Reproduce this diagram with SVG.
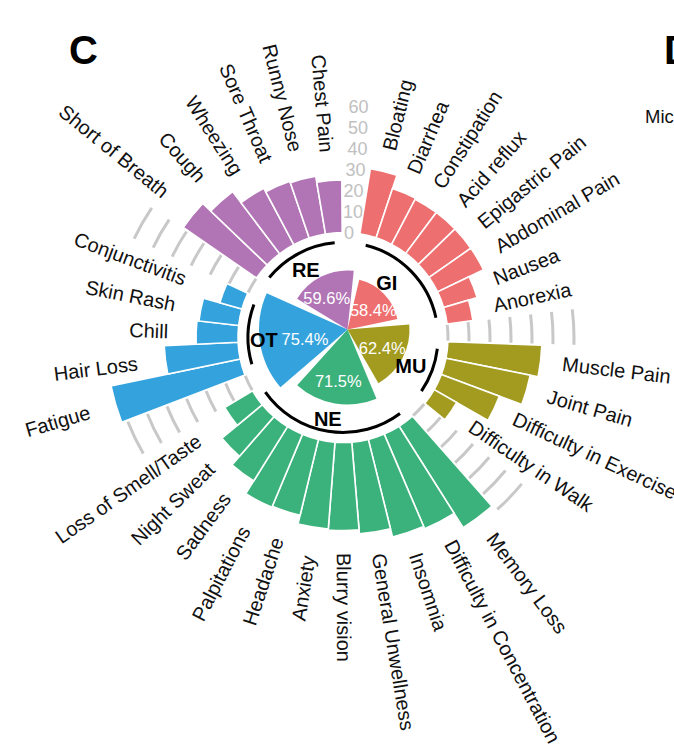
<svg xmlns="http://www.w3.org/2000/svg" xmlns:xlink="http://www.w3.org/1999/xlink" width="674" height="750" viewBox="0 0 674 750">
<style>
text{font-family:"Liberation Sans",Arial,sans-serif}
.lbl{font-size:20px;fill:#111;dominant-baseline:central}
.l{text-anchor:end}
.bar{stroke:#fff;stroke-width:1.6}
.gi{fill:#EE6F6F}
.mu{fill:#A39B1F}
.ne{fill:#3BB27B}
.ot{fill:#34A3DD}
.re{fill:#B174B5}
.tick{fill:none;stroke:#C8C8C8;stroke-width:3}
.garc{fill:none;stroke:#000;stroke-width:3}
.pct{font-size:16.5px;fill:#fff;text-anchor:middle;dominant-baseline:central}
.grp{font-size:20px;font-weight:bold;text-anchor:middle;fill:#000}
.ax{font-size:18px;fill:#C0C0C0;text-anchor:middle;dominant-baseline:central}
.panel{font-size:40px;font-weight:bold;fill:#000}
</style>
<defs>
<path id="tk" d="M104.69,-8.06A105,105 0 0 1 104.69,8.06M125.63,-9.67A126,126 0 0 1 125.63,9.67M146.57,-11.28A147,147 0 0 1 146.57,11.28M167.5,-12.89A168,168 0 0 1 167.5,12.89M188.44,-14.5A189,189 0 0 1 188.44,14.5M209.38,-16.11A210,210 0 0 1 209.38,16.11M230.32,-17.72A231,231 0 0 1 230.32,17.72"/>
</defs>
<rect width="674" height="750" fill="#fff"/>
<text class="panel" x="69" y="64">C</text>
<text class="panel" x="664" y="64">D</text>
<text x="645" y="123" style="font-size:18.5px;fill:#111">Mic</text>

<g id="grid" transform="translate(343,337.5)">
<use xlink:href="#tk" class="tick" transform="rotate(357.4)"/>
<use xlink:href="#tk" class="tick" transform="rotate(43.72)"/>
<use xlink:href="#tk" class="tick" transform="rotate(154.23)"/>
<use xlink:href="#tk" class="tick" transform="rotate(209.72)"/>
</g>
<g id="axis-labels">
<text class="ax" x="349" y="232.8">0</text>
<text class="ax" x="353" y="211.9">10</text>
<text class="ax" x="353.5" y="190.9">20</text>
<text class="ax" x="355.5" y="170">30</text>
<text class="ax" x="357.5" y="149">40</text>
<text class="ax" x="358" y="128.1">50</text>
<text class="ax" x="358.5" y="107.1">60</text>
</g>

<g id="group-GI" transform="translate(343,337.5)">
<g class="gi bar">
<path transform="rotate(283.81)" d="M104.66,-8.39L170.45,-13.67A171,171 0 0 1 170.45,13.67L104.66,8.39A105,105 0 0 0 104.66,-8.39Z"/>
<path transform="rotate(292.98)" d="M104.66,-8.39L156.5,-12.55A157,157 0 0 1 156.5,12.55L104.66,8.39A105,105 0 0 0 104.66,-8.39Z"/>
<path transform="rotate(302.15)" d="M104.66,-8.39L155.5,-12.47A156,156 0 0 1 155.5,12.47L104.66,8.39A105,105 0 0 0 104.66,-8.39Z"/>
<path transform="rotate(311.32)" d="M104.66,-8.39L155.5,-12.47A156,156 0 0 1 155.5,12.47L104.66,8.39A105,105 0 0 0 104.66,-8.39Z"/>
<path transform="rotate(320.49)" d="M104.66,-8.39L155.5,-12.47A156,156 0 0 1 155.5,12.47L104.66,8.39A105,105 0 0 0 104.66,-8.39Z"/>
<path transform="rotate(329.66)" d="M104.66,-8.39L155.5,-12.47A156,156 0 0 1 155.5,12.47L104.66,8.39A105,105 0 0 0 104.66,-8.39Z"/>
<path transform="rotate(338.83)" d="M104.66,-8.39L139.55,-11.19A140,140 0 0 1 139.55,11.19L104.66,8.39A105,105 0 0 0 104.66,-8.39Z"/>
<path transform="rotate(348)" d="M104.66,-8.39L130.58,-10.47A131,131 0 0 1 130.58,10.47L104.66,8.39A105,105 0 0 0 104.66,-8.39Z"/>
</g>
<text class="lbl" transform="rotate(283.81) translate(193,0)">Bloating</text>
<text class="lbl" transform="rotate(292.98) translate(179,0)">Diarrhea</text>
<text class="lbl" transform="rotate(302.15) translate(178,0)">Constipation</text>
<text class="lbl" transform="rotate(311.32) translate(178,0)">Acid reflux</text>
<text class="lbl" transform="rotate(320.49) translate(178,0)">Epigastric Pain</text>
<text class="lbl" transform="rotate(329.66) translate(178,0)">Abdominal Pain</text>
<text class="lbl" transform="rotate(338.83) translate(162,0)">Nausea</text>
<text class="lbl" transform="rotate(348) translate(154,0)">Anorexia</text>
<path class="garc" d="M22.68,-92.25A95,95 0 0 1 92.92,-19.75"/>
</g>

<g id="group-MU" transform="translate(343,337.5)">
<g class="mu bar">
<path transform="rotate(6.81)" d="M104.66,-8.39L198.36,-15.91A199,199 0 0 1 198.36,15.91L104.66,8.39A105,105 0 0 0 104.66,-8.39Z"/>
<path transform="rotate(15.98)" d="M104.66,-8.39L190.39,-15.27A191,191 0 0 1 190.39,15.27L104.66,8.39A105,105 0 0 0 104.66,-8.39Z"/>
<path transform="rotate(25.15)" d="M104.66,-8.39L166.47,-13.35A167,167 0 0 1 166.47,13.35L104.66,8.39A105,105 0 0 0 104.66,-8.39Z"/>
<path transform="rotate(34.32)" d="M104.66,-8.39L130.58,-10.47A131,131 0 0 1 130.58,10.47L104.66,8.39A105,105 0 0 0 104.66,-8.39Z"/>
</g>
<text class="lbl" transform="rotate(6.81) translate(221,0)">Muscle Pain</text>
<text class="lbl" transform="rotate(15.98) translate(213,0)">Joint Pain</text>
<text class="lbl" transform="rotate(25.15) translate(189,0)">Difficulty in Exercise</text>
<text class="lbl" transform="rotate(34.32) translate(155,0)">Difficulty in Walk</text>
<path class="garc" d="M94.33,11.27A95,95 0 0 1 78.46,53.56"/>
</g>

<g id="group-NE" transform="translate(343,337.5)">
<g class="ne bar">
<path transform="rotate(53.13)" d="M104.66,-8.39L224.28,-17.99A225,225 0 0 1 224.28,17.99L104.66,8.39A105,105 0 0 0 104.66,-8.39Z"/>
<path transform="rotate(62.3)" d="M104.66,-8.39L207.33,-16.63A208,208 0 0 1 207.33,16.63L104.66,8.39A105,105 0 0 0 104.66,-8.39Z"/>
<path transform="rotate(71.47)" d="M104.66,-8.39L204.84,-16.43A205.5,205.5 0 0 1 204.84,16.43L104.66,8.39A105,105 0 0 0 104.66,-8.39Z"/>
<path transform="rotate(80.64)" d="M104.66,-8.39L196.37,-15.75A197,197 0 0 1 196.37,15.75L104.66,8.39A105,105 0 0 0 104.66,-8.39Z"/>
<path transform="rotate(89.81)" d="M104.66,-8.39L192.38,-15.43A193,193 0 0 1 192.38,15.43L104.66,8.39A105,105 0 0 0 104.66,-8.39Z"/>
<path transform="rotate(98.98)" d="M104.66,-8.39L191.39,-15.35A192,192 0 0 1 191.39,15.35L104.66,8.39A105,105 0 0 0 104.66,-8.39Z"/>
<path transform="rotate(108.15)" d="M104.66,-8.39L182.41,-14.63A183,183 0 0 1 182.41,14.63L104.66,8.39A105,105 0 0 0 104.66,-8.39Z"/>
<path transform="rotate(117.32)" d="M104.66,-8.39L183.41,-14.71A184,184 0 0 1 183.41,14.71L104.66,8.39A105,105 0 0 0 104.66,-8.39Z"/>
<path transform="rotate(126.49)" d="M104.66,-8.39L168.46,-13.51A169,169 0 0 1 168.46,13.51L104.66,8.39A105,105 0 0 0 104.66,-8.39Z"/>
<path transform="rotate(135.66)" d="M104.66,-8.39L157,-12.59A157.5,157.5 0 0 1 157,12.59L104.66,8.39A105,105 0 0 0 104.66,-8.39Z"/>
<path transform="rotate(144.83)" d="M104.66,-8.39L137.06,-10.99A137.5,137.5 0 0 1 137.06,10.99L104.66,8.39A105,105 0 0 0 104.66,-8.39Z"/>
</g>
<text class="lbl" transform="rotate(53.13) translate(247,0)">Memory Loss</text>
<text class="lbl" transform="rotate(62.3) translate(230,0)">Difficulty in Concentration</text>
<text class="lbl" transform="rotate(71.47) translate(227.5,0)">Insomnia</text>
<text class="lbl" transform="rotate(80.64) translate(219,0)">General Unwellness</text>
<text class="lbl" transform="rotate(89.81) translate(215.5,0)">Blurry vision</text>
<text class="lbl l" transform="rotate(98.98) translate(221,0) rotate(180)">Anxiety</text>
<text class="lbl l" transform="rotate(108.15) translate(211,0) rotate(180)">Headache</text>
<text class="lbl l" transform="rotate(117.32) translate(214,0) rotate(180)">Palpitations</text>
<text class="lbl l" transform="rotate(126.49) translate(196,0) rotate(180)">Sadness</text>
<text class="lbl l" transform="rotate(135.66) translate(184,0) rotate(180)">Night Sweat</text>
<text class="lbl l" transform="rotate(144.83) translate(176,0) rotate(180)">Loss of Smell/Taste</text>
<path class="garc" d="M57,76A95,95 0 0 1 -77.66,54.73"/>
</g>

<g id="group-OT" transform="translate(343,337.5)">
<g class="ot bar">
<path transform="rotate(163.64)" d="M104.66,-8.39L236.24,-18.95A237,237 0 0 1 236.24,18.95L104.66,8.39A105,105 0 0 0 104.66,-8.39Z"/>
<path transform="rotate(172.81)" d="M104.66,-8.39L178.43,-14.31A179,179 0 0 1 178.43,14.31L104.66,8.39A105,105 0 0 0 104.66,-8.39Z"/>
<path transform="rotate(181.98)" d="M104.66,-8.39L146.53,-11.75A147,147 0 0 1 146.53,11.75L104.66,8.39A105,105 0 0 0 104.66,-8.39Z"/>
<path transform="rotate(191.15)" d="M104.66,-8.39L144.54,-11.59A145,145 0 0 1 144.54,11.59L104.66,8.39A105,105 0 0 0 104.66,-8.39Z"/>
<path transform="rotate(200.32)" d="M104.66,-8.39L127.59,-10.23A128,128 0 0 1 127.59,10.23L104.66,8.39A105,105 0 0 0 104.66,-8.39Z"/>
</g>
<text class="lbl l" transform="rotate(163.64) translate(264,0) rotate(180)">Fatigue</text>
<text class="lbl l" transform="rotate(172.81) translate(207,0) rotate(180)">Hair Loss</text>
<text class="lbl l" transform="rotate(181.98) translate(175,0) rotate(180)">Chill</text>
<text class="lbl l" transform="rotate(191.15) translate(171,0) rotate(180)">Skin Rash</text>
<text class="lbl l" transform="rotate(200.32) translate(168,0) rotate(180)">Conjunctivitis</text>
<path class="garc" d="M-91.15,26.76A95,95 0 0 1 -89.09,-32.99"/>
</g>

<g id="group-RE" transform="translate(343,337.5)">
<g class="re bar">
<path transform="rotate(219.13)" d="M104.66,-8.39L193.38,-15.51A194,194 0 0 1 193.38,15.51L104.66,8.39A105,105 0 0 0 104.66,-8.39Z"/>
<path transform="rotate(228.3)" d="M104.66,-8.39L182.41,-14.63A183,183 0 0 1 182.41,14.63L104.66,8.39A105,105 0 0 0 104.66,-8.39Z"/>
<path transform="rotate(237.47)" d="M104.66,-8.39L168.46,-13.51A169,169 0 0 1 168.46,13.51L104.66,8.39A105,105 0 0 0 104.66,-8.39Z"/>
<path transform="rotate(246.64)" d="M104.66,-8.39L164.47,-13.19A165,165 0 0 1 164.47,13.19L104.66,8.39A105,105 0 0 0 104.66,-8.39Z"/>
<path transform="rotate(255.81)" d="M104.66,-8.39L162.98,-13.07A163.5,163.5 0 0 1 162.98,13.07L104.66,8.39A105,105 0 0 0 104.66,-8.39Z"/>
<path transform="rotate(264.98)" d="M104.66,-8.39L157,-12.59A157.5,157.5 0 0 1 157,12.59L104.66,8.39A105,105 0 0 0 104.66,-8.39Z"/>
</g>
<text class="lbl l" transform="rotate(219.13) translate(228,0) rotate(180)">Short of Breath</text>
<text class="lbl l" transform="rotate(228.3) translate(212,0) rotate(180)">Cough</text>
<text class="lbl l" transform="rotate(237.47) translate(195,0) rotate(180)">Wheezing</text>
<text class="lbl l" transform="rotate(246.64) translate(192,0) rotate(180)">Sore Throat</text>
<text class="lbl l" transform="rotate(255.81) translate(192,0) rotate(180)">Runny Nose</text>
<text class="lbl l" transform="rotate(264.98) translate(186,0) rotate(180)">Chest Pain</text>
<path class="garc" d="M-73.69,-59.95A95,95 0 0 1 -8.31,-94.64"/>
</g>

<g id="pie">
<g transform="translate(347.5,329.5)">
<path class="gi" transform="rotate(315.7)" d="M0,0L43.06,-27.33A51,51 0 0 1 43.06,27.33Z"/>
<path class="mu" transform="rotate(27.7)" d="M0,0L52.35,-33.22A62,62 0 0 1 52.35,33.22Z"/>
<path class="ne" transform="rotate(99.7)" d="M0,0L63.32,-40.19A75,75 0 0 1 63.32,40.19Z"/>
<path class="ot" transform="rotate(171.7)" d="M0,0L74.72,-47.42A88.5,88.5 0 0 1 74.72,47.42Z"/>
<path class="re" transform="rotate(243.7)" d="M0,0L49.81,-31.61A59,59 0 0 1 49.81,31.61Z"/>
</g>
<text class="pct" x="373.3" y="310">58.4%</text>
<text class="pct" x="382.2" y="348.3">62.4%</text>
<text class="pct" x="338.3" y="380.5">71.5%</text>
<text class="pct" x="305" y="338.8">75.4%</text>
<text class="pct" x="326.7" y="298.3">59.6%</text>
</g>

<g id="group-labels">
<text class="grp" x="305.8" y="276.7">RE</text>
<text class="grp" x="386.7" y="290">GI</text>
<text class="grp" x="263.8" y="346.7">OT</text>
<text class="grp" x="410.8" y="372.7">MU</text>
<text class="grp" x="327.8" y="426">NE</text>
</g>
</svg>
